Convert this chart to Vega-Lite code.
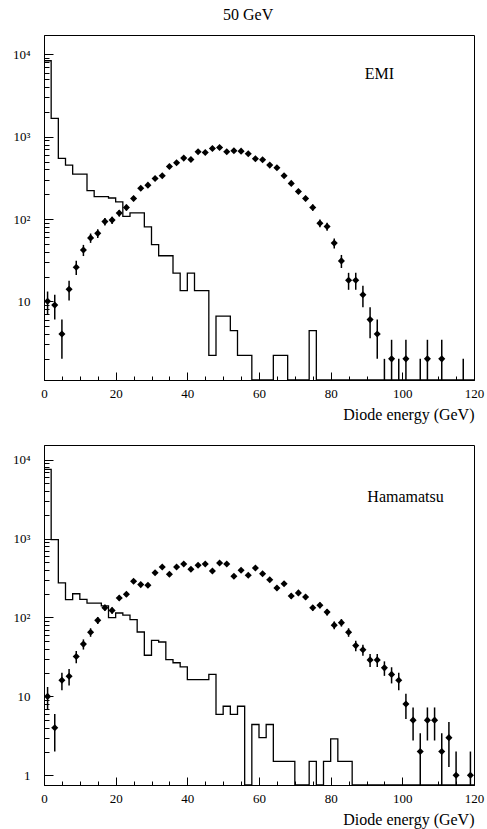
{
  "$schema": "https://vega.github.io/schema/vega-lite/v6.json",
  "background": "white",
  "padding": {"left": 11, "top": 6, "right": 3, "bottom": 3},
  "title": {"text": "50 GeV", "anchor": "middle", "frame": "bounds", "font": "Liberation Serif", "fontSize": 16, "fontWeight": "normal", "color": "black", "offset": 12},
  "spacing": 65,
  "bounds": "flush",
  "datasets": {
    "emi_hist": [
      {"E":0,"v":8380},{"E":2,"v":1667},{"E":4,"v":545},{"E":6,"v":452},{"E":8,"v":351},{"E":10,"v":351},{"E":12,"v":221},{"E":14,"v":187},{"E":16,"v":187},{"E":18,"v":180},
      {"E":20,"v":162},{"E":22,"v":108},{"E":24,"v":119},{"E":26,"v":119},{"E":28,"v":80.5},{"E":30,"v":48.8},{"E":32,"v":35.8},{"E":34,"v":35.8},{"E":36,"v":22},{"E":38,"v":13.5},
      {"E":40,"v":22},{"E":42,"v":13.5},{"E":44,"v":13.5},{"E":46,"v":2.2},{"E":48,"v":6.6},{"E":50,"v":6.6},{"E":52,"v":4.4},{"E":54,"v":2.2},{"E":56,"v":2.2},{"E":58,"v":0},
      {"E":60,"v":0},{"E":62,"v":0},{"E":64,"v":2.2},{"E":66,"v":2.2},{"E":68,"v":0},{"E":70,"v":0},{"E":72,"v":0},{"E":74,"v":4.4},{"E":76,"v":0},{"E":78,"v":0},
      {"E":80,"v":0},{"E":82,"v":0},{"E":84,"v":0},{"E":86,"v":0},{"E":88,"v":0},{"E":90,"v":0},{"E":92,"v":0},{"E":94,"v":0},{"E":96,"v":0},{"E":98,"v":0},
      {"E":100,"v":0},{"E":102,"v":0},{"E":104,"v":0},{"E":106,"v":0},{"E":108,"v":0},{"E":110,"v":0},{"E":112,"v":0},{"E":114,"v":0},{"E":116,"v":0},{"E":118,"v":0},{"E":120,"v":0}
    ],
    "emi_pts": [
      {"E":1,"n":10,"lo":6.84,"hi":13.16},{"E":3,"n":9,"lo":6,"hi":12},{"E":5,"n":4,"lo":2,"hi":6},{"E":7,"n":14,"lo":10.26,"hi":17.74},{"E":9,"n":26,"lo":20.9,"hi":31.1},
      {"E":11,"n":42,"lo":35.5,"hi":48.5},{"E":13,"n":59,"lo":51.3,"hi":66.7},{"E":15,"n":67,"lo":58.8,"hi":75.2},{"E":17,"n":93,"lo":83.4,"hi":102.6},{"E":19,"n":97,"lo":87.2,"hi":106.8},
      {"E":21,"n":118,"lo":107.1,"hi":128.9},{"E":23,"n":138,"lo":126.3,"hi":149.7},{"E":25,"n":178,"lo":164.7,"hi":191.3},{"E":27,"n":237,"lo":221.6,"hi":252.4},{"E":29,"n":258,"lo":241.9,"hi":274.1},
      {"E":31,"n":311,"lo":293.4,"hi":328.6},{"E":33,"n":336,"lo":317.7,"hi":354.3},{"E":35,"n":435,"lo":414.1,"hi":455.9},{"E":37,"n":483,"lo":461,"hi":505},{"E":39,"n":550,"lo":526.5,"hi":573.5},
      {"E":41,"n":530,"lo":507,"hi":553},{"E":43,"n":657,"lo":631.4,"hi":682.6},{"E":45,"n":644,"lo":618.6,"hi":669.4},{"E":47,"n":721,"lo":694.2,"hi":747.9},{"E":49,"n":741,"lo":713.8,"hi":768.2},
      {"E":51,"n":657,"lo":631.4,"hi":682.6},{"E":53,"n":676,"lo":650,"hi":702},{"E":55,"n":668,"lo":642.2,"hi":693.8},{"E":57,"n":621,"lo":596.1,"hi":645.9},{"E":59,"n":541,"lo":517.7,"hi":564.3},
      {"E":61,"n":526,"lo":503.1,"hi":548.9},{"E":63,"n":452,"lo":430.7,"hi":473.3},{"E":65,"n":420,"lo":399.5,"hi":440.5},{"E":67,"n":336,"lo":317.7,"hi":354.3},{"E":69,"n":271,"lo":254.5,"hi":287.5},
      {"E":71,"n":216,"lo":201.3,"hi":230.7},{"E":73,"n":178,"lo":164.7,"hi":191.3},{"E":75,"n":138,"lo":126.3,"hi":149.7},{"E":77,"n":89,"lo":79.6,"hi":98.4},{"E":79,"n":81,"lo":72,"hi":90},
      {"E":81,"n":51,"lo":43.9,"hi":58.1},{"E":83,"n":31,"lo":25.4,"hi":36.6},{"E":85,"n":18,"lo":13.8,"hi":22.2},{"E":87,"n":18,"lo":13.8,"hi":22.2},{"E":89,"n":12,"lo":8.5,"hi":15.5},
      {"E":91,"n":6,"lo":3.55,"hi":8.45},{"E":93,"n":4,"lo":2,"hi":6},{"E":95,"n":1,"lo":0,"hi":2},{"E":97,"n":2,"lo":0.59,"hi":3.41},{"E":99,"n":1,"lo":0,"hi":2},
      {"E":101,"n":2,"lo":0.59,"hi":3.41},{"E":105,"n":1,"lo":0,"hi":2},{"E":107,"n":2,"lo":0.59,"hi":3.41},{"E":111,"n":2,"lo":0.59,"hi":3.41},{"E":117,"n":1,"lo":0,"hi":2}
    ],
    "ham_hist": [
      {"E":0,"v":7550},{"E":2,"v":968},{"E":4,"v":274},{"E":6,"v":168},{"E":8,"v":200},{"E":10,"v":170},{"E":12,"v":152},{"E":14,"v":152},{"E":16,"v":140},{"E":18,"v":99.5},
      {"E":20,"v":114},{"E":22,"v":107},{"E":24,"v":94},{"E":26,"v":65.5},{"E":28,"v":33.2},{"E":30,"v":51.4},{"E":32,"v":48.9},{"E":34,"v":29.2},{"E":36,"v":26.7},{"E":38,"v":23.6},
      {"E":40,"v":16.3},{"E":42,"v":16.3},{"E":44,"v":16.3},{"E":46,"v":19},{"E":48,"v":5.9},{"E":50,"v":7.5},{"E":52,"v":5.9},{"E":54,"v":7.5},{"E":56,"v":0},{"E":58,"v":4.4},
      {"E":60,"v":3.0},{"E":62,"v":4.4},{"E":64,"v":1.5},{"E":66,"v":1.5},{"E":68,"v":1.5},{"E":70,"v":0},{"E":72,"v":0},{"E":74,"v":1.5},{"E":76,"v":0},{"E":78,"v":1.5},
      {"E":80,"v":2.9},{"E":82,"v":1.5},{"E":84,"v":1.5},{"E":86,"v":0},{"E":88,"v":0},{"E":90,"v":0},{"E":92,"v":0},{"E":94,"v":0},{"E":96,"v":0},{"E":98,"v":0},
      {"E":100,"v":0},{"E":102,"v":0},{"E":104,"v":0},{"E":106,"v":0},{"E":108,"v":0},{"E":110,"v":0},{"E":112,"v":0},{"E":114,"v":0},{"E":116,"v":0},{"E":118,"v":0},{"E":120,"v":0}
    ],
    "ham_pts": [
      {"E":1,"n":10,"lo":6.84,"hi":13.16},{"E":3,"n":4,"lo":2,"hi":6},{"E":5,"n":16,"lo":12,"hi":20},{"E":7,"n":18,"lo":13.76,"hi":22.24},{"E":9,"n":32,"lo":26.34,"hi":37.66},
      {"E":11,"n":46,"lo":39.22,"hi":52.78},{"E":13,"n":65,"lo":56.94,"hi":73.06},{"E":15,"n":92,"lo":82.41,"hi":101.59},{"E":17,"n":133,"lo":121.47,"hi":144.53},{"E":19,"n":123,"lo":111.91,"hi":134.09},
      {"E":21,"n":177,"lo":163.7,"hi":190.3},{"E":23,"n":197,"lo":183,"hi":211},{"E":25,"n":288,"lo":271,"hi":305},{"E":27,"n":261,"lo":244.8,"hi":277.2},{"E":29,"n":256,"lo":240,"hi":272},
      {"E":31,"n":370,"lo":350.8,"hi":389.2},{"E":33,"n":436,"lo":415.1,"hi":456.9},{"E":35,"n":353,"lo":334.2,"hi":371.8},{"E":37,"n":436,"lo":415.1,"hi":456.9},{"E":39,"n":476,"lo":454.2,"hi":497.8},
      {"E":41,"n":408,"lo":387.8,"hi":428.2},{"E":43,"n":459,"lo":437.6,"hi":480.4},{"E":45,"n":476,"lo":454.2,"hi":497.8},{"E":47,"n":388,"lo":368.3,"hi":407.7},{"E":49,"n":491,"lo":468.8,"hi":513.2},
      {"E":51,"n":476,"lo":454.2,"hi":497.8},{"E":53,"n":333,"lo":314.8,"hi":351.2},{"E":55,"n":396,"lo":376.1,"hi":415.9},{"E":57,"n":343,"lo":324.5,"hi":361.5},{"E":59,"n":424,"lo":403.4,"hi":444.6},
      {"E":61,"n":359,"lo":340.1,"hi":377.9},{"E":63,"n":301,"lo":283.7,"hi":318.3},{"E":65,"n":237,"lo":221.6,"hi":252.4},{"E":67,"n":268,"lo":251.6,"hi":284.4},{"E":69,"n":187,"lo":173.3,"hi":200.7},
      {"E":71,"n":205,"lo":190.7,"hi":219.3},{"E":73,"n":182,"lo":168.5,"hi":195.5},{"E":75,"n":133,"lo":121.5,"hi":144.5},{"E":77,"n":143,"lo":131,"hi":155},{"E":79,"n":117,"lo":106.2,"hi":127.8},
      {"E":81,"n":80,"lo":71.1,"hi":88.9},{"E":83,"n":86,"lo":76.7,"hi":95.3},{"E":85,"n":65,"lo":56.9,"hi":73.1},{"E":87,"n":44,"lo":37.4,"hi":50.6},{"E":89,"n":39,"lo":32.8,"hi":45.2},
      {"E":91,"n":29,"lo":23.6,"hi":34.4},{"E":93,"n":29,"lo":23.6,"hi":34.4},{"E":95,"n":23,"lo":18.2,"hi":27.8},{"E":97,"n":19,"lo":14.6,"hi":23.4},{"E":99,"n":16,"lo":12,"hi":20},
      {"E":101,"n":8,"lo":5.17,"hi":10.83},{"E":103,"n":5,"lo":2.76,"hi":7.24},{"E":105,"n":2,"lo":0.59,"hi":3.41},{"E":107,"n":5,"lo":2.76,"hi":7.24},{"E":109,"n":5,"lo":2.76,"hi":7.24},
      {"E":111,"n":2,"lo":0.59,"hi":3.41},{"E":113,"n":3,"lo":1.27,"hi":4.73},{"E":115,"n":1,"lo":0,"hi":2},{"E":119,"n":1,"lo":0,"hi":2}
    ]
  },
  "vconcat": [
    {
      "width": 430,
      "height": 345,
      "encoding": {
        "x": {"field": "E", "type": "quantitative", "scale": {"domain": [0, 120], "nice": false, "zero": false},
          "axis": {"title": "Diode energy (GeV)", "titleAnchor": "end", "titlePadding": 2,
            "values": [0,5,10,15,20,25,30,35,40,45,50,55,60,65,70,75,80,85,90,95,100,105,110,115,120],
            "labelExpr": "datum.value % 20 === 0 ? datum.label : ''",
            "tickSize": {"condition": {"test": "datum.value % 20 === 0", "value": -8}, "value": -4},
            "labelPadding": 15, "labelFlush": false, "labelOverlap": false}}
      },
      "layer": [
        {"data": {"name": "emi_hist"},
         "mark": {"type": "line", "interpolate": "step-after", "color": "black", "strokeWidth": 1.3, "clip": true},
         "encoding": {"y": {"field": "v", "type": "quantitative",
           "scale": {"type": "log", "domain": [1.107, 17220], "nice": false, "clamp": true},
           "axis": {"title": null,
             "values": [2,3,4,5,6,7,8,9,10,20,30,40,50,60,70,80,90,100,200,300,400,500,600,700,800,900,1000,2000,3000,4000,5000,6000,7000,8000,9000,10000],
             "labelExpr": "datum.value === 10000 ? '10⁴' : datum.value === 1000 ? '10³' : datum.value === 100 ? '10²' : datum.value === 10 ? '10' : datum.value === 1 ? '1' : ''",
             "tickSize": {"condition": {"test": "datum.value === 1 || datum.value === 10 || datum.value === 100 || datum.value === 1000 || datum.value === 10000", "value": -9}, "value": -5},
             "labelPadding": 23, "labelOverlap": false}}}},
        {"data": {"name": "emi_pts"},
         "mark": {"type": "rule", "color": "black", "strokeWidth": 1.5, "clip": true},
         "encoding": {"y": {"field": "lo", "type": "quantitative", "axis": {"title": null}}, "y2": {"field": "hi"}}},
        {"data": {"name": "emi_pts"},
         "transform": [{"filter": "datum.n >= 1.5"}],
         "mark": {"type": "point", "shape": "diamond", "filled": true, "size": 50, "color": "black", "opacity": 1, "clip": true},
         "encoding": {"y": {"field": "n", "type": "quantitative", "axis": {"title": null}}}},
        {"data": {"values": [{"E": 93.6, "v": 5780, "label": "EMI"}]},
         "mark": {"type": "text", "font": "Liberation Serif", "fontSize": 16, "align": "center", "baseline": "middle", "color": "black"},
         "encoding": {"y": {"field": "v", "type": "quantitative", "axis": {"title": null}}, "text": {"field": "label"}}}
      ]
    },
    {
      "width": 430,
      "height": 340,
      "encoding": {
        "x": {"field": "E", "type": "quantitative", "scale": {"domain": [0, 120], "nice": false, "zero": false},
          "axis": {"title": "Diode energy (GeV)", "titleAnchor": "end", "titlePadding": 2,
            "values": [0,5,10,15,20,25,30,35,40,45,50,55,60,65,70,75,80,85,90,95,100,105,110,115,120],
            "labelExpr": "datum.value % 20 === 0 ? datum.label : ''",
            "tickSize": {"condition": {"test": "datum.value % 20 === 0", "value": -8}, "value": -4},
            "labelPadding": 15, "labelFlush": false, "labelOverlap": false}}
      },
      "layer": [
        {"data": {"name": "ham_hist"},
         "mark": {"type": "line", "interpolate": "step-after", "color": "black", "strokeWidth": 1.3, "clip": true},
         "encoding": {"y": {"field": "v", "type": "quantitative",
           "scale": {"type": "log", "domain": [0.753, 15360], "nice": false, "clamp": true},
           "axis": {"title": null,
             "values": [1,2,3,4,5,6,7,8,9,10,20,30,40,50,60,70,80,90,100,200,300,400,500,600,700,800,900,1000,2000,3000,4000,5000,6000,7000,8000,9000,10000],
             "labelExpr": "datum.value === 10000 ? '10⁴' : datum.value === 1000 ? '10³' : datum.value === 100 ? '10²' : datum.value === 10 ? '10' : datum.value === 1 ? '1' : ''",
             "tickSize": {"condition": {"test": "datum.value === 1 || datum.value === 10 || datum.value === 100 || datum.value === 1000 || datum.value === 10000", "value": -9}, "value": -5},
             "labelPadding": 23, "labelOverlap": false}}}},
        {"data": {"name": "ham_pts"},
         "mark": {"type": "rule", "color": "black", "strokeWidth": 1.5, "clip": true},
         "encoding": {"y": {"field": "lo", "type": "quantitative", "axis": {"title": null}}, "y2": {"field": "hi"}}},
        {"data": {"name": "ham_pts"},
         "mark": {"type": "point", "shape": "diamond", "filled": true, "size": 50, "color": "black", "opacity": 1, "clip": true},
         "encoding": {"y": {"field": "n", "type": "quantitative", "axis": {"title": null}}}},
        {"data": {"values": [{"E": 100.9, "v": 3365, "label": "Hamamatsu"}]},
         "mark": {"type": "text", "font": "Liberation Serif", "fontSize": 16, "align": "center", "baseline": "middle", "color": "black"},
         "encoding": {"y": {"field": "v", "type": "quantitative", "axis": {"title": null}}, "text": {"field": "label"}}}
      ]
    }
  ],
  "config": {
    "view": {"stroke": "black", "strokeWidth": 1},
    "axis": {"domainColor": "black", "domainWidth": 1, "tickColor": "black", "tickWidth": 1, "labelColor": "black",
      "labelFont": "Liberation Serif", "labelFontSize": 13, "titleFont": "Liberation Serif", "titleFontSize": 16,
      "titleFontWeight": "normal", "titleColor": "black", "grid": false},
    "mark": {"invalid": "show"}
  }
}
